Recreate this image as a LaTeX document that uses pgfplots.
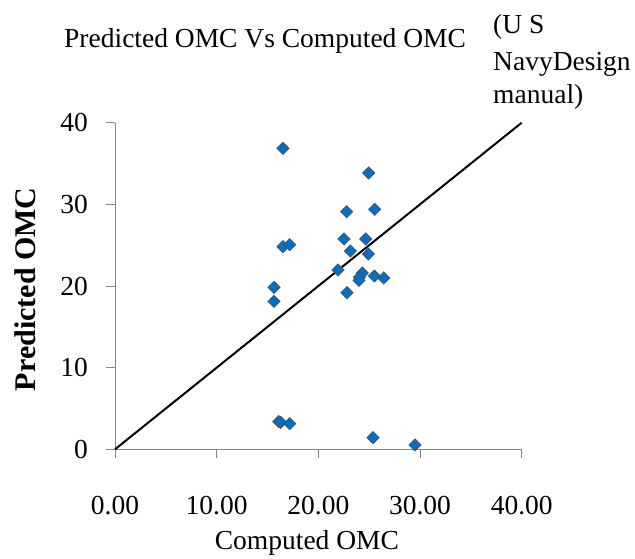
\documentclass[border=0pt]{standalone}
\usepackage{fontspec}
\setmainfont{Liberation Serif}
\usepackage{pgfplots}
\pgfplotsset{compat=1.18}

\definecolor{ptblue}{RGB}{10,110,192}
\definecolor{axgray}{RGB}{134,134,134}

\newcommand{\bigtxt}{\fontsize{27.5}{33}\selectfont}

\begin{document}
\begin{tikzpicture}
\path[use as bounding box] (0,0) rectangle (635pt,558pt);

% title and note, placed as in the reference
\node[anchor=base west, inner sep=0pt, font=\bigtxt] at (64pt,510pt) {Predicted OMC Vs Computed OMC};
\node[anchor=base west, inner sep=0pt, font=\bigtxt] at (493pt,524pt) {(U S};
\node[anchor=base west, inner sep=0pt, font=\bigtxt] at (493pt,487pt) {NavyDesign};
\node[anchor=base west, inner sep=0pt, font=\bigtxt] at (493pt,454pt) {manual)};

\begin{axis}[
    at={(115pt,108.7pt)}, anchor=south west,
    scale only axis,
    width=406.7pt, height=326.6pt,
    xmin=0, xmax=40, ymin=0, ymax=40,
    axis x line=bottom, axis y line=left,
    axis line style={-, axgray, line width=0.8pt},
    tick style={axgray, line width=0.8pt},
    tick align=outside,
    major tick length=9pt,
    xtick={0,10,20,30,40}, ytick={0,10,20,30,40},
    /pgf/number format/assume math mode=true,
    ticklabel style={font=\bigtxt},
    yticklabel style={anchor=east, inner sep=0pt, xshift=-18pt},
    xticklabel style={anchor=base, inner sep=0pt, yshift=-56pt,
        /pgf/number format/fixed, /pgf/number format/fixed zerofill,
        /pgf/number format/precision=2},
    xlabel={Computed OMC},
    xlabel style={font=\bigtxt, at={(axis description cs:0.472,-0.308)}, anchor=base, inner sep=0pt},
    ylabel={Predicted OMC},
    ylabel style={font=\fontsize{30}{36}\selectfont\bfseries, at={(axis description cs:-0.2213,0.49)}, anchor=center, inner sep=0pt},
    clip=false,
]
\addplot[black, line width=2pt] coordinates {(0,0) (40,40)};
\addplot[only marks, mark=square*, mark size=4.4pt,
    mark options={rotate=45, fill=ptblue, draw=black!70, line width=0.5pt}]
    coordinates {
    (16.52,36.86) (24.95,33.84) (22.79,29.10) (25.54,29.39)
    (22.52,25.76) (24.66,25.76) (16.52,24.82) (17.18,25.06)
    (23.15,24.29) (24.92,23.92) (21.93,21.96) (24.33,21.59)
    (24.03,21.06) (24.00,20.69) (25.51,21.22) (26.43,20.98)
    (22.82,19.18) (15.64,19.84) (15.64,18.12) (16.10,3.40)
    (16.30,3.30) (17.18,3.14) (25.38,1.43) (29.51,0.53)
    };
\end{axis}
\end{tikzpicture}
\end{document}
